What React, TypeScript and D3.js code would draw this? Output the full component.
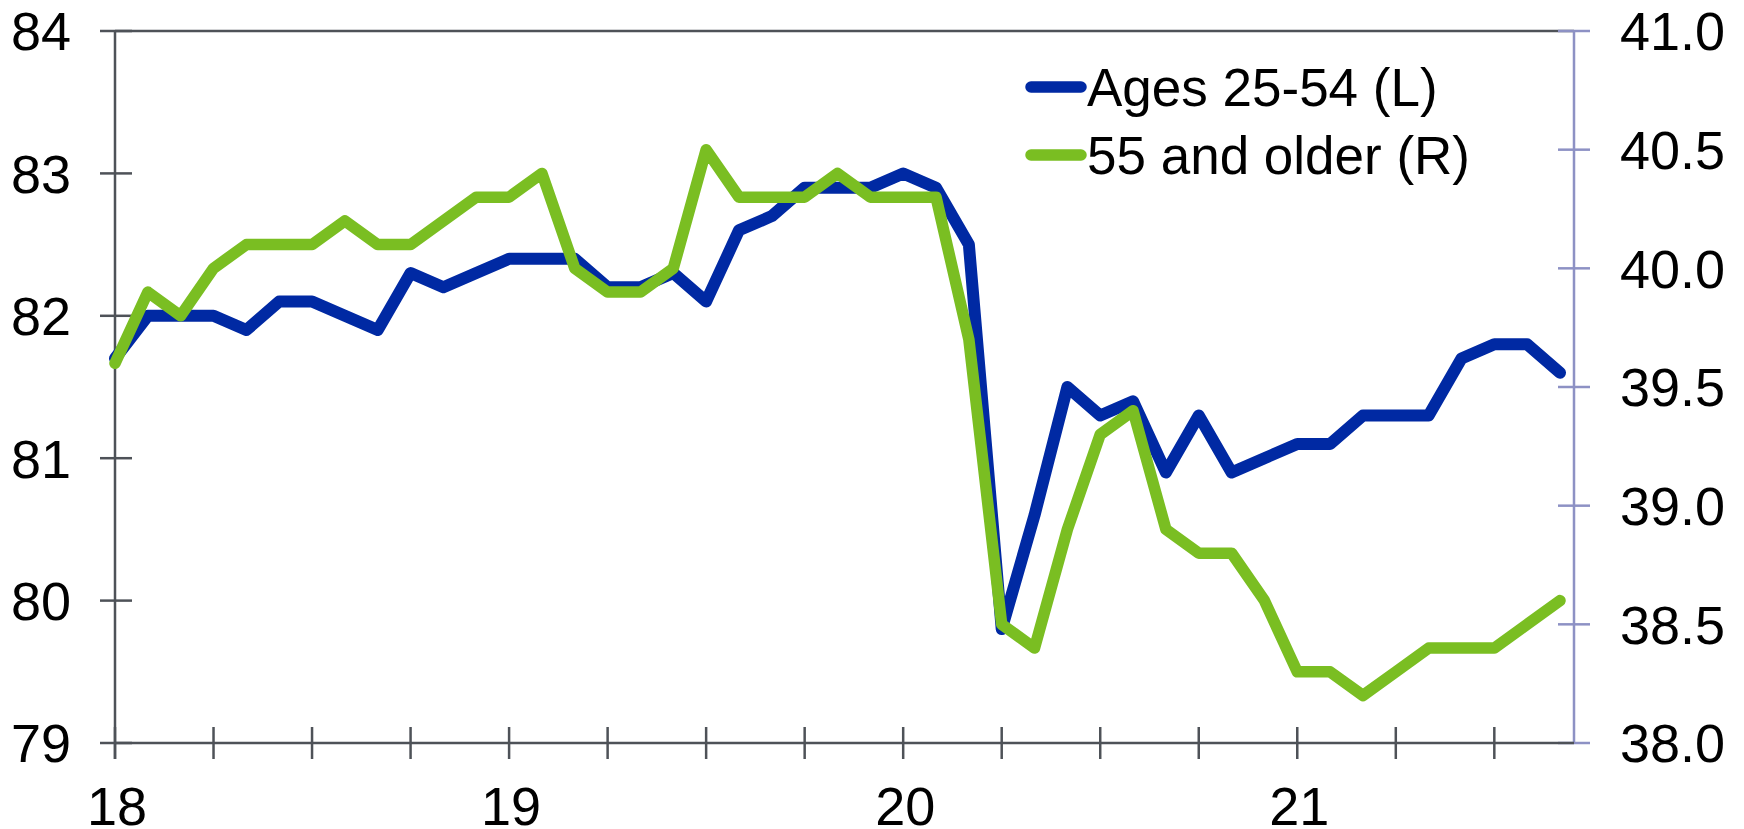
import React from "react";
import * as d3 from "d3";

const months: number[] = d3.range(45); // Jan 2018 .. Sep 2021, month index
const ages2554: number[] = [
  81.7, 82.0, 82.0, 82.0, 81.9, 82.1, 82.1, 82.0, 81.9, 82.3, 82.2, 82.3,
  82.4, 82.4, 82.4, 82.2, 82.2, 82.3, 82.1, 82.6, 82.7, 82.9, 82.9, 82.9,
  83.0, 82.9, 82.5, 79.8, 80.6, 81.5, 81.3, 81.4, 80.9, 81.3, 80.9, 81.0,
  81.1, 81.1, 81.3, 81.3, 81.3, 81.7, 81.8, 81.8, 81.6,
];
const age55plus: number[] = [
  39.6, 39.9, 39.8, 40.0, 40.1, 40.1, 40.1, 40.2, 40.1, 40.1, 40.2, 40.3,
  40.3, 40.4, 40.0, 39.9, 39.9, 40.0, 40.5, 40.3, 40.3, 40.3, 40.4, 40.3,
  40.3, 40.3, 39.7, 38.5, 38.4, 38.9, 39.3, 39.4, 38.9, 38.8, 38.8, 38.6,
  38.3, 38.3, 38.2, 38.3, 38.4, 38.4, 38.4, 38.5, 38.6,
];
const leftTicks: number[] = [79, 80, 81, 82, 83, 84];
const rightTicks: number[] = [38.0, 38.5, 39.0, 39.5, 40.0, 40.5, 41.0];
const xTickMonths: number[] = d3.range(0, 45, 3);
const yearLabels: { m: number; label: string }[] = [
  { m: 0, label: "18" },
  { m: 12, label: "19" },
  { m: 24, label: "20" },
  { m: 36, label: "21" },
];
const legendItems = [
  { label: "Ages 25-54 (L)", color: "#0029a3" },
  { label: "55 and older (R)", color: "#7abe22" },
];

const X0 = 115;
const X_LAST = 1560;
const X_RIGHT = 1574;
const Y_TOP = 31;
const Y_BOT = 743;
const FONT = "'Liberation Sans', Arial, Helvetica, sans-serif";
const AXIS_DARK = "#4e5258";
const AXIS_RIGHT = "#8d91c4";

export default function App() {
  const x = d3.scaleLinear().domain([0, 44]).range([X0, X_LAST]);
  const yL = d3.scaleLinear().domain([79, 84]).range([Y_BOT, Y_TOP]);
  const yR = d3.scaleLinear().domain([38, 41]).range([Y_BOT, Y_TOP]);

  const lineL = d3
    .line<number>()
    .x((_, i) => x(months[i]))
    .y((d) => yL(d));
  const lineR = d3
    .line<number>()
    .x((_, i) => x(months[i]))
    .y((d) => yR(d));

  return (
    <svg
      width={1744}
      height={829}
      style={{ position: "absolute", left: 0, top: 0, background: "#fff" }}
      fontFamily={FONT}
    >
      <rect x={0} y={0} width={1744} height={829} fill="#fff" />
      {/* top border */}
      <line x1={X0} x2={X_RIGHT} y1={Y_TOP} y2={Y_TOP} stroke={AXIS_DARK} strokeWidth={2.5} />
      {/* right axis */}
      <line x1={X_RIGHT} x2={X_RIGHT} y1={Y_TOP} y2={Y_BOT} stroke={AXIS_RIGHT} strokeWidth={2.5} />
      {rightTicks.map((t) => (
        <g key={"r" + t}>
          <line x1={X_RIGHT - 16} x2={X_RIGHT + 16} y1={yR(t)} y2={yR(t)} stroke={AXIS_RIGHT} strokeWidth={2.5} />
          <text x={1620} y={yR(t)} dy="0.36em" fontSize={54} fill="#000">
            {d3.format(".1f")(t)}
          </text>
        </g>
      ))}
      {/* bottom axis */}
      <line x1={X0} x2={X_RIGHT} y1={Y_BOT} y2={Y_BOT} stroke={AXIS_DARK} strokeWidth={2.5} />
      {xTickMonths.map((m) => (
        <line key={"xt" + m} x1={x(m)} x2={x(m)} y1={Y_BOT - 16} y2={Y_BOT + 16} stroke={AXIS_DARK} strokeWidth={2.5} />
      ))}
      {yearLabels.map((d) => (
        <text key={"yl" + d.label} x={x(d.m) + 2} y={825} textAnchor="middle" fontSize={54} fill="#000">
          {d.label}
        </text>
      ))}
      {/* left axis */}
      <line x1={X0} x2={X0} y1={Y_TOP} y2={Y_BOT + 16} stroke={AXIS_DARK} strokeWidth={2.5} />
      {leftTicks.map((t) => (
        <g key={"l" + t}>
          <line x1={X0 - 15} x2={X0 + 17} y1={yL(t)} y2={yL(t)} stroke={AXIS_DARK} strokeWidth={2.5} />
          <text x={71} y={yL(t)} dy="0.36em" textAnchor="end" fontSize={54} fill="#000">
            {t}
          </text>
        </g>
      ))}
      {/* series */}
      <path
        d={lineL(ages2554) || ""}
        fill="none"
        stroke={legendItems[0].color}
        strokeWidth={12}
        strokeLinejoin="round"
        strokeLinecap="round"
      />
      <path
        d={lineR(age55plus) || ""}
        fill="none"
        stroke={legendItems[1].color}
        strokeWidth={11.5}
        strokeLinejoin="round"
        strokeLinecap="round"
      />
      {/* legend */}
      {legendItems.map((it, i) => {
        const ly = 87 + i * 68;
        return (
          <g key={it.label}>
            <line x1={1031} x2={1081} y1={ly} y2={ly} stroke={it.color} strokeWidth={11.5} strokeLinecap="round" />
            <text x={1087} y={ly} dy="0.36em" fontSize={53} fill="#000">
              {it.label}
            </text>
          </g>
        );
      })}
    </svg>
  );
}
